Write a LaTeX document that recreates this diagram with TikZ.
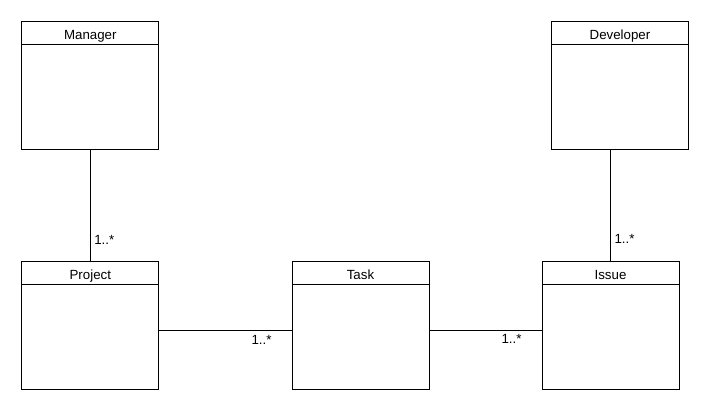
\documentclass[tikz,border=0pt]{standalone}
\usepackage{fontspec}
\setmainfont{Liberation Sans}
\usetikzlibrary{positioning}

\tikzset{
  classhead/.style={draw,line width=1pt,outer sep=0pt,inner sep=0pt,minimum width=137pt,minimum height=22.6pt,text height=12pt,text depth=0pt},
  classbody/.style={draw,line width=1pt,outer sep=0pt,minimum width=137pt,minimum height=105pt},
  assoc/.style={line width=1pt},
  mult/.style={inner sep=0pt}
}

\begin{document}
\begin{tikzpicture}[x=1pt,y=1pt,font=\fontsize{13.3}{16}\selectfont]
\useasboundingbox (0,0) rectangle (710,-410);
% classes
\node[classhead] (managerhead) at (90.3,-33) {Manager};
\node[classbody,below=0pt of managerhead] (managerbody) {};
\node[classhead] (developerhead) at (620,-33) {Developer};
\node[classbody,below=0pt of developerhead] (developerbody) {};
\node[classhead] (projecthead) at (90.3,-273) {Project};
\node[classbody,below=0pt of projecthead] (projectbody) {};
\node[classhead] (taskhead) at (360.5,-273) {Task};
\node[classbody,below=0pt of taskhead] (taskbody) {};
\node[classhead] (issuehead) at (610.5,-273) {Issue};
\node[classbody,below=0pt of issuehead] (issuebody) {};
% associations
\draw[assoc] (managerbody.south) -- node[mult,pos=.807,anchor=west,xshift=3.5pt] {1..*} (projecthead.north);
\draw[assoc] (issuehead.north) -- node[mult,pos=.2,anchor=west,xshift=3.5pt] {1..*} (issuehead.north |- developerbody.south);
\draw[assoc] ([yshift=6.5pt]projectbody.east) -- node[mult,pos=1,anchor=north east,xshift=-20pt,yshift=-5pt] {1..*} ([yshift=6.5pt]taskbody.west);
\draw[assoc] ([yshift=6.5pt]taskbody.east) -- node[mult,pos=1,anchor=north east,xshift=-20pt,yshift=-4pt] {1..*} ([yshift=6.5pt]issuebody.west);
\end{tikzpicture}
\end{document}
